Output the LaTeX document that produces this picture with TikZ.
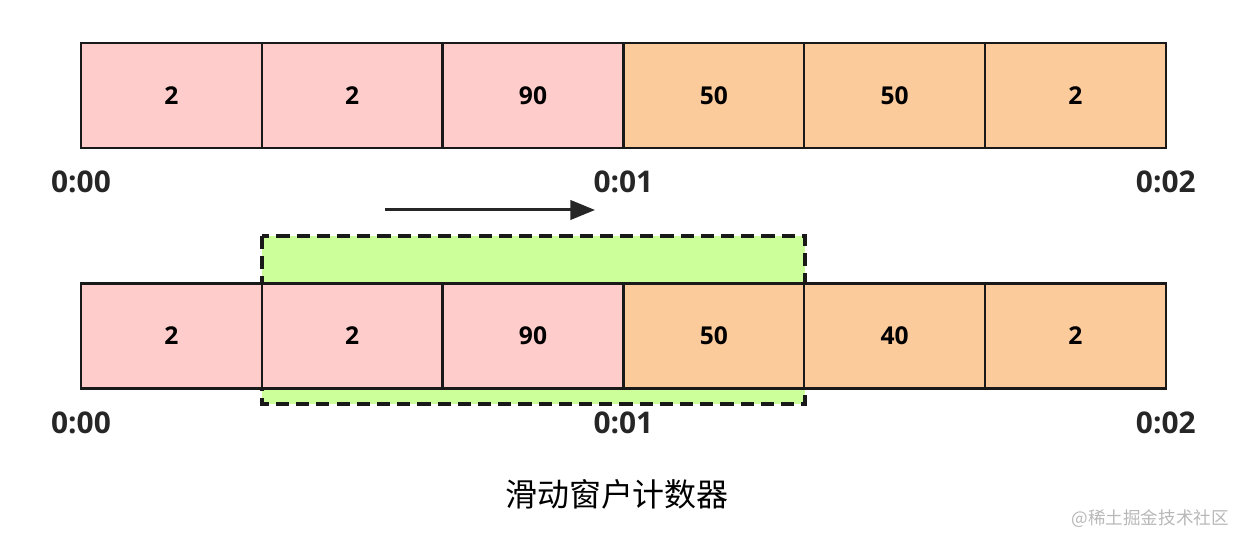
\documentclass[tikz,border=0pt]{standalone}
\usepackage{fontspec}
\setmainfont{Open Sans}
\newfontfamily\cjk{Noto Sans CJK SC}
\usepackage{tikz}
\usetikzlibrary{positioning}
\usetikzlibrary{arrows.meta}
\definecolor{redbin}{HTML}{FFCCCC}
\definecolor{orangebin}{HTML}{FCCB9C}
\definecolor{greenwin}{HTML}{CCFF99}
\definecolor{markgray}{HTML}{B8B8B8}

\begin{document}
\begin{tikzpicture}
      [bin/.style={draw=black!90,line width=1.4pt,minimum width=3.616cm,minimum height=2.1cm,
                   outer sep=0pt,inner sep=0pt,font=\bfseries\fontsize{14}{16}\selectfont},
       red/.style={bin,fill=redbin},
       orange/.style={bin,fill=orangebin},
       tick/.style={inner sep=0pt,text=black!85,font=\bfseries\fontsize{17}{20}\selectfont}]
    \useasboundingbox (0,0) rectangle (25,10.92);
    % sliding window, behind the lower row
    \coordinate (W1) at (5.24,6.2);
    \coordinate (W2) at (16.1,2.84);
    \draw [fill=greenwin,draw=black!90,line width=1.9pt,dash pattern=on 7.5pt off 4pt] (W1) rectangle (W2);
    \coordinate (S1) at (7.7,6.72);
    \coordinate (S2) at (11.9,6.72);
    \draw [line width=1.7pt,-{Triangle[length=14pt,width=11pt]},black!85] (S1) -- (S2);

    \node[red]  (T1) at (3.428,9.01) {2};
    \node[red]  (T2) [right=0pt of T1] {2};
    \node[red]  (T3) [right=0pt of T2] {90};
    \node[orange] (T4) [right=0pt of T3] {50};
    \node[orange] (T5) [right=0pt of T4] {50};
    \node[orange] (T6) [right=0pt of T5] {2};

    \node[red]  (B1) at (3.428,4.2) {2};
    \node[red]  (B2) [right=0pt of B1] {2};
    \node[red]  (B3) [right=0pt of B2] {90};
    \node[orange] (B4) [right=0pt of B3] {50};
    \node[orange] (B5) [right=0pt of B4] {40};
    \node[orange] (B6) [right=0pt of B5] {2};

    \foreach \r in {T,B} {
      \node[tick] at ([yshift=-0.68cm]\r1.south west) {0:00};
      \node[tick] at ([yshift=-0.68cm]\r3.south east) {0:01};
      \node[tick] at ([yshift=-0.68cm]\r6.south east) {0:02};
    }

    \node (title) at (12.34,1.04) {\cjk\fontsize{18.2}{22}\selectfont 滑动窗户计数器};
    \node (mark) [anchor=east,text=markgray] at (24.7,0.54) {\cjk\fontsize{10}{12}\selectfont @稀土掘金技术社区};
\end{tikzpicture}
\end{document}
